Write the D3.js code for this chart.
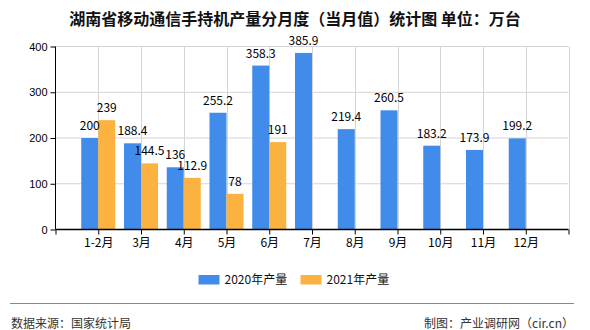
<!DOCTYPE html>
<html><head><meta charset="utf-8">
<script src="https://cdn.jsdelivr.net/npm/d3@7"></script>
<style>
html,body{margin:0;padding:0;background:#fff;}
svg{display:block;}
</style></head>
<body>
<svg id="chart" width="590" height="330"></svg>
<script>
const categories = ["1-2月","3月","4月","5月","6月","7月","8月","9月","10月","11月","12月"];
const series2020 = [200,188.4,136,255.2,358.3,385.9,219.4,260.5,183.2,173.9,199.2];
const series2021 = [239,144.5,112.9,78,191,null,null,null,null,null,null];
const seriesNames = ["2020年产量","2021年产量"];
const colors = ["#418ceb","#fbb241"];
const yTicks = [0,100,200,300,400];
const title = "湖南省移动通信手持机产量分月度（当月值）统计图 单位：万台";
const sourceText = "数据来源：国家统计局";
const makerText = "制图：产业调研网（cir.cn）";

const svg = d3.select("#chart");
const cjk = "'Noto Sans CJK SC','Noto Sans',sans-serif";
const pL = 55.5, pR = 568.5, pT = 46.5, pB = 229.5;

const x = d3.scaleLinear().domain([0, categories.length + 1]).range([pL, pR]);
const y = d3.scaleLinear().domain([0, 400]).range([pB, pT]);
const barW = 17;

// horizontal gridlines
svg.append("g").selectAll("line").data(yTicks.filter(d => d > 0)).join("line")
  .attr("x1", pL).attr("x2", pR)
  .attr("y1", d => y(d)).attr("y2", d => y(d))
  .attr("stroke", "#d4d4d4").attr("stroke-width", 1);

// vertical gridlines
const vgrid = d3.range(1, categories.length + 2);
svg.append("g").selectAll("line").data(vgrid).join("line")
  .attr("x1", d => Math.round(x(d)) + 0.5).attr("x2", d => Math.round(x(d)) + 0.5)
  .attr("y1", pT).attr("y2", pB)
  .attr("stroke", "#d4d4d4").attr("stroke-width", 1);

// bars
const data = categories.map((c, i) => ({c, i, a: series2020[i], b: series2021[i]}));
svg.append("g").selectAll("rect").data(data).join("rect")
  .attr("x", d => x(d.i + 1) - barW).attr("width", barW)
  .attr("y", d => y(d.a)).attr("height", d => y(0) - y(d.a))
  .attr("fill", colors[0]);
svg.append("g").selectAll("rect").data(data.filter(d => d.b != null)).join("rect")
  .attr("x", d => x(d.i + 1)).attr("width", barW)
  .attr("y", d => y(d.b)).attr("height", d => y(0) - y(d.b))
  .attr("fill", colors[1]);

// value labels
const lab = svg.append("g").attr("font-family", cjk).attr("font-size", 12).attr("fill", "#000").attr("text-anchor", "middle");
lab.selectAll("text.a").data(data).join("text").attr("class", "a")
  .attr("x", d => x(d.i + 1) - barW / 2).attr("y", d => y(d.a) - 8)
  .text(d => d.a);
lab.selectAll("text.b").data(data.filter(d => d.b != null)).join("text").attr("class", "b")
  .attr("x", d => x(d.i + 1) + barW / 2).attr("y", d => y(d.b) - 8)
  .text(d => d.b);

// y axis
const yAxis = d3.axisLeft(y).tickValues(yTicks).tickSize(5).tickPadding(3);
const gy = svg.append("g").attr("transform", `translate(${pL},0)`).call(yAxis);
gy.select(".domain").attr("stroke", "#000").attr("d", `M0,${pT}V${pB}`);
gy.selectAll(".tick line").attr("stroke", "#000");
gy.selectAll(".tick text").attr("font-family", "'Liberation Sans',Arial,sans-serif").attr("font-size", 11).attr("fill", "#000");

// x axis
const xAxis = d3.axisBottom(x).tickValues(d3.range(0, categories.length + 2)).tickSize(5).tickPadding(4)
  .tickFormat(d => (d >= 1 && d <= categories.length) ? categories[d - 1] : "");
const gx = svg.append("g").attr("transform", `translate(0,${pB})`).call(xAxis);
gx.select(".domain").attr("stroke", "#000").attr("stroke-width", 1.5).attr("d", `M${pL},0H${pR}`);
gx.selectAll(".tick line").attr("stroke", "#000");
gx.selectAll(".tick text").attr("font-family", cjk).attr("font-size", 12).attr("fill", "#000");

// title
svg.append("text").attr("x", 295).attr("y", 25).attr("text-anchor", "middle")
  .attr("font-family", cjk).attr("font-size", 16).attr("font-weight", "bold").attr("fill", "#111")
  .text(title);

// legend
const lg = svg.append("g");
const legendX = [198.5, 300.5];
seriesNames.forEach((n, i) => {
  lg.append("rect").attr("x", legendX[i]).attr("y", 275).attr("width", 21).attr("height", 9.5).attr("fill", colors[i]);
  lg.append("text").attr("x", legendX[i] + 26).attr("y", 284)
    .attr("font-family", cjk).attr("font-size", 12).attr("fill", "#111").text(n);
});

// footer
svg.append("line").attr("x1", 10).attr("x2", 574).attr("y1", 303.5).attr("y2", 303.5).attr("stroke", "#888").attr("stroke-width", 1);
svg.append("text").attr("x", 11).attr("y", 328).attr("font-family", cjk).attr("font-size", 12).attr("fill", "#333").text(sourceText);
svg.append("text").attr("x", 574).attr("y", 328).attr("text-anchor", "end").attr("font-family", cjk).attr("font-size", 12).attr("fill", "#333").text(makerText);
</script>
</body></html>
